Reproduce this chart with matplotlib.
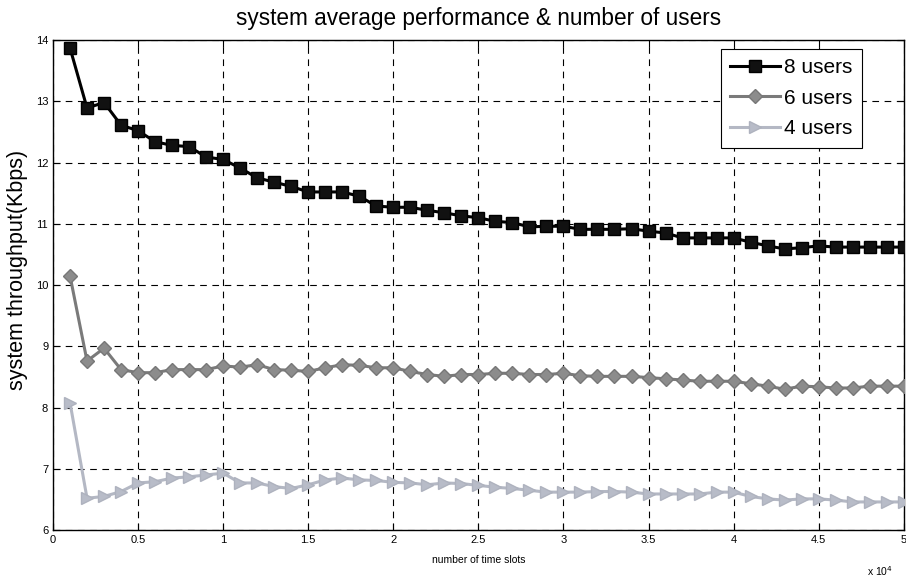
import numpy as np
import matplotlib
matplotlib.use('Agg')
import matplotlib.pyplot as plt

plt.rcParams['font.family'] = ['Liberation Sans', 'DejaVu Sans']

# time slots: 1000 ... 50000, plotted in units of 1e4
slots = np.arange(1, 51) * 1000

users8 = [13.87, 12.89, 12.98, 12.61, 12.52, 12.34, 12.28, 12.26, 12.09, 12.05,
          11.91, 11.75, 11.68, 11.61, 11.52, 11.52, 11.52, 11.45, 11.29, 11.27,
          11.27, 11.22, 11.18, 11.13, 11.10, 11.04, 11.02, 10.95, 10.96, 10.96,
          10.91, 10.91, 10.91, 10.92, 10.88, 10.85, 10.77, 10.77, 10.77, 10.77,
          10.70, 10.64, 10.59, 10.61, 10.64, 10.62, 10.62, 10.62, 10.62, 10.62]
users6 = [10.15, 8.76, 8.97, 8.62, 8.57, 8.57, 8.62, 8.62, 8.62, 8.68,
          8.66, 8.70, 8.62, 8.61, 8.59, 8.65, 8.70, 8.69, 8.65, 8.65,
          8.59, 8.54, 8.51, 8.54, 8.54, 8.56, 8.56, 8.54, 8.54, 8.56,
          8.52, 8.51, 8.51, 8.51, 8.49, 8.47, 8.45, 8.43, 8.43, 8.43,
          8.39, 8.35, 8.30, 8.35, 8.34, 8.32, 8.32, 8.35, 8.35, 8.35]
users4 = [8.08, 6.52, 6.55, 6.63, 6.77, 6.79, 6.85, 6.87, 6.90, 6.93,
          6.77, 6.77, 6.71, 6.68, 6.74, 6.82, 6.85, 6.82, 6.81, 6.78,
          6.77, 6.74, 6.77, 6.76, 6.73, 6.70, 6.68, 6.65, 6.62, 6.62,
          6.62, 6.63, 6.63, 6.62, 6.59, 6.59, 6.59, 6.59, 6.62, 6.62,
          6.55, 6.51, 6.49, 6.51, 6.51, 6.49, 6.46, 6.46, 6.46, 6.46]

x = slots / 1e4

fig = plt.figure(figsize=(9.06, 5.8), dpi=100)
ax = fig.add_axes([0.0585, 0.086, 0.939, 0.845])

ax.plot(x, users8, color='black', lw=2.2, marker='s', ms=8,
        mfc='#111111', mec='black', label='8 users', zorder=5)
ax.plot(x, users6, color='#7a7a7a', lw=2.2, marker='D', ms=7.5,
        mfc='#8c8c8c', mec='#777777', label='6 users', zorder=4)
ax.plot(x, users4, color='#b4b8c4', lw=2.2, marker='>', ms=9,
        mfc='#b8bcc8', mec='#aeb2be', label='4 users', zorder=3)

ax.set_xlim(0, 5)
ax.set_ylim(6, 14)
ax.set_xticks(np.arange(0, 5.01, 0.5))
ax.set_xticklabels(['0', '0.5', '1', '1.5', '2', '2.5', '3', '3.5', '4', '4.5', '5'])
ax.set_yticks(range(6, 15))
ax.tick_params(direction='in', labelsize=8, length=5, top=True, right=True)
ax.grid(True, color='black', ls=(0, (6, 5)), lw=0.8)

for s in ax.spines.values():
    s.set_linewidth(1.0)

ax.set_title('system average performance & number of users', fontsize=16.3, pad=11)
ax.set_ylabel('system throughput(Kbps)', fontsize=15.5, labelpad=1)
ax.yaxis.set_label_coords(-0.029, 0.53)
ax.set_xlabel('number of time slots', fontsize=7.5, labelpad=7)
fig.text(0.985, 0.003, r'x 10$^4$', ha='right', va='bottom', fontsize=7.5)

leg = ax.legend(loc='upper right', bbox_to_anchor=(0.951, 0.982), fontsize=15,
                frameon=True, fancybox=False, edgecolor='black', framealpha=1,
                handlelength=2.4, handletextpad=0.2, borderpad=0.45,
                labelspacing=0.55, borderaxespad=0)
leg.get_frame().set_linewidth(0.8)

fig.savefig('out.png', dpi=100, facecolor='white')
